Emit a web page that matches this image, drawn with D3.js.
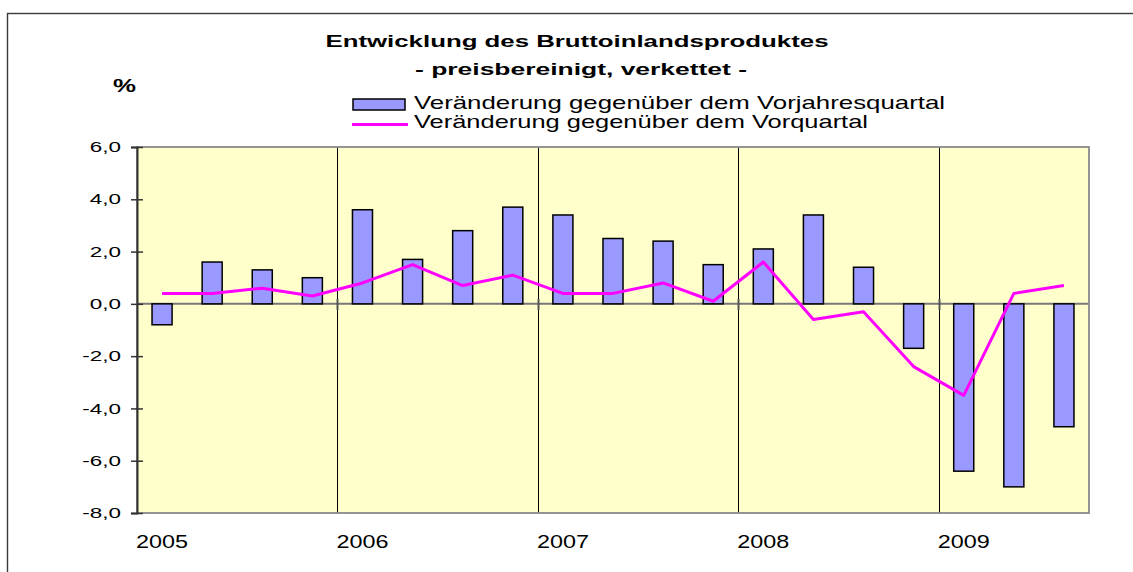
<!DOCTYPE html>
<html>
<head>
<meta charset="utf-8">
<script src="https://cdn.jsdelivr.net/npm/d3@7"></script>
<style>
  html, body { margin: 0; padding: 0; background: #fff; overflow: hidden; }
  text { font-family: Arial, "Liberation Sans", sans-serif; fill: #000; }
</style>
</head>
<body>
<div id="chart"></div>
<script>
// Daten: Quartale 2005 Q1 bis 2009 Q3
const years = ['2005', '2006', '2007', '2008', '2009'];
const quarters = ['2005-1', '2005-2', '2005-3', '2005-4',
                  '2006-1', '2006-2', '2006-3', '2006-4',
                  '2007-1', '2007-2', '2007-3', '2007-4',
                  '2008-1', '2008-2', '2008-3', '2008-4',
                  '2009-1', '2009-2', '2009-3'];
// Veränderung gegenüber dem Vorjahresquartal (Balken)
const vorjahr = [-0.8, 1.6, 1.3, 1.0, 3.6, 1.7, 2.8, 3.7, 3.4, 2.5, 2.4, 1.5, 2.1, 3.4, 1.4, -1.7, -6.4, -7.0, -4.7];
// Veränderung gegenüber dem Vorquartal (Linie)
const vorquartal = [0.4, 0.4, 0.6, 0.3, 0.8, 1.5, 0.7, 1.1, 0.4, 0.4, 0.8, 0.1, 1.6, -0.6, -0.3, -2.4, -3.5, 0.4, 0.7];
const yTicks = [-8, -6, -4, -2, 0, 2, 4, 6];

const title1 = 'Entwicklung des Bruttoinlandsproduktes';
const title2 = '- preisbereinigt, verkettet -';
const legendBar = 'Veränderung gegenüber dem Vorjahresquartal';
const legendLine = 'Veränderung gegenüber dem Vorquartal';

const WIDTH = 1133;
const HEIGHT = 572;
const PLOT = { left: 137, right: 1089, top: 147, bottom: 513 };
const BAR_COLOR = '#9999ff';
const LINE_COLOR = '#ff00ff';

// deutsches Zahlenformat mit normalem Bindestrich als Minus
const de = d3.formatLocale({ decimal: ',', thousands: '.', grouping: [3], currency: ['', ' €'], minus: '-' });
const fmt = de.format('.1f');

const svg = d3.select('#chart')
    .append('svg')
    .attr('width', WIDTH)
    .attr('height', HEIGHT);

// Rahmen (rechts und unten abgeschnitten)
svg.append('rect')
    .attr('x', 7.5)
    .attr('y', 13.5)
    .attr('width', 1300)
    .attr('height', 800)
    .attr('fill', 'none')
    .attr('stroke', '#3a3a3a')
    .attr('stroke-width', 1.4);

// Skalen
const x = d3.scaleBand()
    .domain(quarters)
    .range([PLOT.left, PLOT.right])
    .paddingInner(0.6)
    .paddingOuter(0.3);

const y = d3.scaleLinear()
    .domain([-8, 6])
    .range([PLOT.bottom, PLOT.top]);

const step = x.step();
const boundary = q => x(q) - x.paddingInner() * step / 2;

// Hintergrund
svg.append('rect')
    .attr('x', PLOT.left)
    .attr('y', PLOT.top)
    .attr('width', PLOT.right - PLOT.left)
    .attr('height', PLOT.bottom - PLOT.top)
    .attr('fill', '#ffffcc');

// Jahrestrennlinien
const yearStarts = quarters.filter(q => q.endsWith('-1'));
svg.append('g')
    .selectAll('line')
    .data(yearStarts.slice(1))
    .join('line')
    .attr('x1', d => Math.round(boundary(d)) + 0.5)
    .attr('x2', d => Math.round(boundary(d)) + 0.5)
    .attr('y1', PLOT.top)
    .attr('y2', PLOT.bottom)
    .attr('stroke', '#000')
    .attr('stroke-width', 1);

// Nulllinie
svg.append('line')
    .attr('x1', PLOT.left)
    .attr('x2', PLOT.right)
    .attr('y1', y(0))
    .attr('y2', y(0))
    .attr('stroke', '#777')
    .attr('stroke-width', 2);

// Kleine Striche an der Nulllinie
svg.append('g')
    .selectAll('line')
    .data(yearStarts.slice(1))
    .join('line')
    .attr('x1', d => Math.round(boundary(d)) + 0.5)
    .attr('x2', d => Math.round(boundary(d)) + 0.5)
    .attr('y1', y(0) - 5)
    .attr('y2', y(0) + 6)
    .attr('stroke', '#555')
    .attr('stroke-width', 2);

// Balken
svg.append('g')
    .selectAll('rect')
    .data(quarters.map((q, i) => ({ q, v: vorjahr[i] })))
    .join('rect')
    .attr('x', d => x(d.q))
    .attr('width', x.bandwidth())
    .attr('y', d => y(Math.max(0, d.v)))
    .attr('height', d => Math.abs(y(d.v) - y(0)))
    .attr('fill', BAR_COLOR)
    .attr('stroke', '#000')
    .attr('stroke-width', 1.5);

// Linie
const line = d3.line()
    .x(d => x(d.q) + x.bandwidth() / 2)
    .y(d => y(d.v));

svg.append('path')
    .datum(quarters.map((q, i) => ({ q, v: vorquartal[i] })))
    .attr('fill', 'none')
    .attr('stroke', LINE_COLOR)
    .attr('stroke-width', 3)
    .attr('stroke-linejoin', 'round')
    .attr('d', line);

// Plotrahmen
svg.append('rect')
    .attr('x', PLOT.left)
    .attr('y', PLOT.top)
    .attr('width', PLOT.right - PLOT.left)
    .attr('height', PLOT.bottom - PLOT.top)
    .attr('fill', 'none')
    .attr('stroke', '#8a8a8a')
    .attr('stroke-width', 1.8);

// Y-Achse
const yAxis = d3.axisLeft(y)
    .tickValues(yTicks)
    .tickSize(6)
    .tickFormat(d => fmt(d));

const yAxisG = svg.append('g')
    .attr('transform', `translate(${PLOT.left},0)`)
    .call(yAxis);

yAxisG.select('.domain')
    .attr('stroke', '#333')
    .attr('stroke-width', 2);
yAxisG.selectAll('.tick line')
    .attr('x1', 6)
    .attr('stroke', '#333')
    .attr('stroke-width', 1.5);
yAxisG.selectAll('.tick text')
    .attr('font-family', 'Arial, "Liberation Sans", sans-serif')
    .attr('font-size', 15.5)
    .attr('x', -11)
    .attr('dy', '0.3em')
    .attr('transform', 'scale(1.45,1)');

// Jahreszahlen
svg.append('g')
    .selectAll('text')
    .data(years)
    .join('text')
    .attr('text-anchor', 'middle')
    .attr('font-size', 18)
    .attr('transform', d => `translate(${x(d + '-1') + x.bandwidth() / 2},548) scale(1.3,1)`)
    .text(d => d);

// Titel
svg.append('text')
    .attr('x', 577)
    .attr('y', 47)
    .attr('text-anchor', 'middle')
    .attr('font-size', 16)
    .attr('font-weight', 'bold')
    .attr('textLength', 503)
    .attr('lengthAdjust', 'spacingAndGlyphs')
    .text(title1);

svg.append('text')
    .attr('x', 581)
    .attr('y', 75)
    .attr('text-anchor', 'middle')
    .attr('font-size', 16)
    .attr('font-weight', 'bold')
    .attr('textLength', 332)
    .attr('lengthAdjust', 'spacingAndGlyphs')
    .text(title2);

// Einheit
svg.append('text')
    .attr('x', 113)
    .attr('y', 92)
    .attr('font-size', 18)
    .attr('font-weight', 'bold')
    .attr('textLength', 23)
    .attr('lengthAdjust', 'spacingAndGlyphs')
    .text('%');

// Legende
const legend = svg.append('g');
legend.append('rect')
    .attr('x', 353)
    .attr('y', 99)
    .attr('width', 52)
    .attr('height', 11)
    .attr('fill', BAR_COLOR)
    .attr('stroke', '#000')
    .attr('stroke-width', 1.5);
legend.append('line')
    .attr('x1', 352)
    .attr('x2', 408)
    .attr('y1', 124.5)
    .attr('y2', 124.5)
    .attr('stroke', LINE_COLOR)
    .attr('stroke-width', 3);
legend.append('text')
    .attr('x', 414)
    .attr('y', 109)
    .attr('font-size', 19)
    .attr('textLength', 531)
    .attr('lengthAdjust', 'spacingAndGlyphs')
    .text(legendBar);
legend.append('text')
    .attr('x', 414)
    .attr('y', 128)
    .attr('font-size', 19)
    .attr('textLength', 454)
    .attr('lengthAdjust', 'spacingAndGlyphs')
    .text(legendLine);
</script>
</body>
</html>
